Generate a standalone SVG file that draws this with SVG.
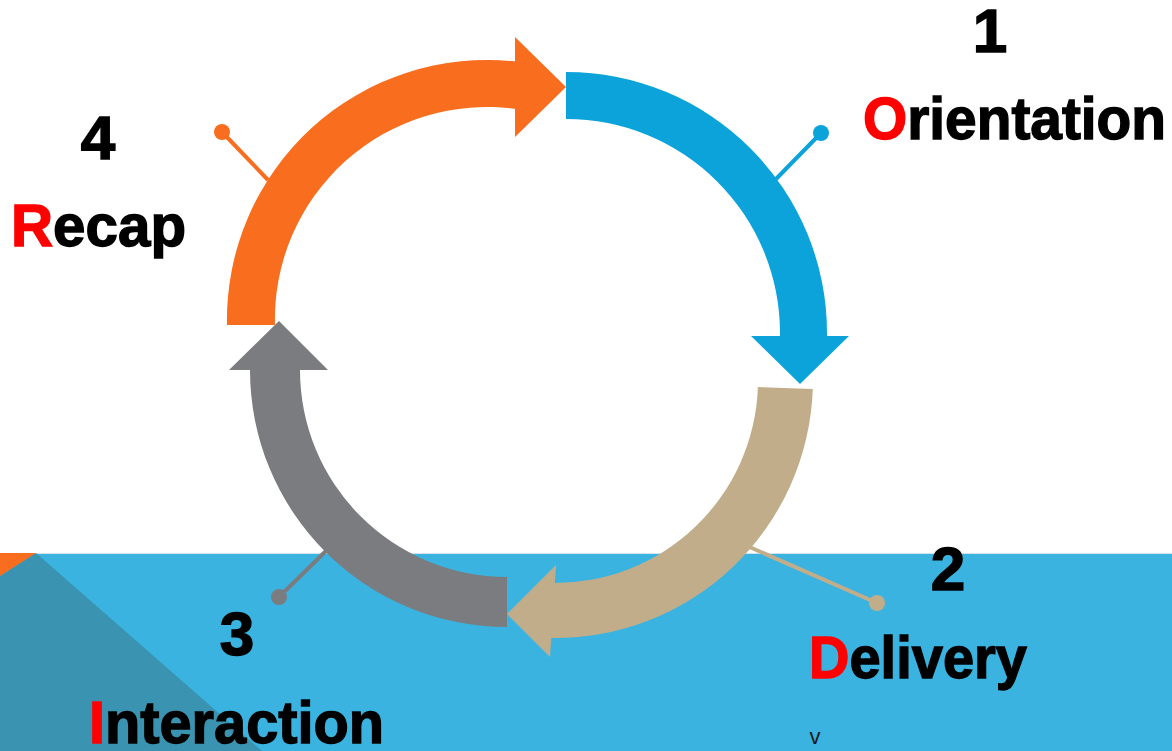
<svg xmlns="http://www.w3.org/2000/svg" width="1172" height="751" viewBox="0 0 1172 751">
  <style>
    .num { font-family: "Liberation Sans", Arial, sans-serif; font-weight: bold; font-size: 62px; fill: #000; stroke: #000; stroke-width: 1.5; text-anchor: middle; }
    .lbl { font-family: "Liberation Sans", Arial, sans-serif; font-weight: bold; font-size: 60px; fill: #000; stroke: #000; stroke-width: 1.4; }
    .red { fill: #FF0000; stroke: #FF0000; }
    .conn { stroke-width: 4; fill: none; }
  </style>
  <rect x="0" y="0" width="1172" height="751" fill="#FFFFFF"/>
  <g id="background">
    <rect x="0" y="553" width="1172" height="198" fill="#3AB3E0"/>
    <line x1="0" y1="553.5" x2="1172" y2="553.5" stroke="#CFE6EF" stroke-width="1"/>
    <polygon points="0,576 36,553 262,751 0,751" fill="#3A93B0"/>
    <polygon points="0,553 36,553 0,576" fill="#F86D1E"/>
  </g>
  <g id="connectors">
    <line class="conn" x1="776" y1="179" x2="821" y2="133" stroke="#0BA3DA"/>
    <circle cx="821" cy="133" r="8" fill="#0BA3DA"/>
    <line class="conn" x1="268" y1="180" x2="222" y2="132" stroke="#F86D1E"/>
    <circle cx="222" cy="132" r="8" fill="#F86D1E"/>
    <line class="conn" x1="745" y1="545" x2="877" y2="603" stroke="#C2AD8B"/>
    <circle cx="877" cy="603" r="8" fill="#C2AD8B"/>
    <line class="conn" x1="330" y1="547" x2="279" y2="597" stroke="#7B7C80"/>
    <circle cx="279" cy="597" r="8" fill="#7B7C80"/>
  </g>
  <g id="node-orientation">
    <path d="M566,72 A261,261 0 0 1 827,333 L827,337 L780,337 L780,333 A214,214 0 0 0 566,119 Z" fill="#0BA3DA"/>
    <polygon points="751,336 849,336 800,384" fill="#0BA3DA"/>
    <text class="num" x="990" y="52">1</text>
    <text class="lbl" x="863" y="139" textLength="303" lengthAdjust="spacingAndGlyphs"><tspan class="red">O</tspan>rientation</text>
  </g>
  <g id="node-delivery">
    <path d="M812.8,389 A258,258 0 0 1 550.5,638 L551.5,583 A203,203 0 0 0 757.9,387.1 Z" fill="#C2AD8B"/>
    <polygon points="556,565 550,657 507,614" fill="#C2AD8B"/>
    <text class="num" x="948" y="590">2</text>
    <text class="lbl" x="809" y="678" textLength="218" lengthAdjust="spacingAndGlyphs"><tspan class="red">D</tspan>elivery</text>
  </g>
  <g id="node-interaction">
    <path d="M507,627 A257,257 0 0 1 250,370 L300,370 A207,207 0 0 0 507,577 Z" fill="#7B7C80"/>
    <polygon points="229,370 328,370 279,321" fill="#7B7C80"/>
    <text class="num" x="237" y="655">3</text>
    <text class="lbl" x="89" y="743" textLength="295" lengthAdjust="spacingAndGlyphs"><tspan class="red">I</tspan>nteraction</text>
  </g>
  <g id="node-recap">
    <path d="M227,325 A260,260 0 0 1 516,61.6 L516,109 A212,212 0 0 0 275,325 Z" fill="#F86D1E"/>
    <polygon points="515,37 566,87 515,137" fill="#F86D1E"/>
    <text class="num" x="98" y="159">4</text>
    <text class="lbl" x="11" y="246" textLength="175" lengthAdjust="spacingAndGlyphs"><tspan class="red">R</tspan>ecap</text>
  </g>
  <text x="815" y="744" font-family="Liberation Sans, Arial, sans-serif" font-size="22" fill="#1a1a1a" text-anchor="middle">v</text>
</svg>
